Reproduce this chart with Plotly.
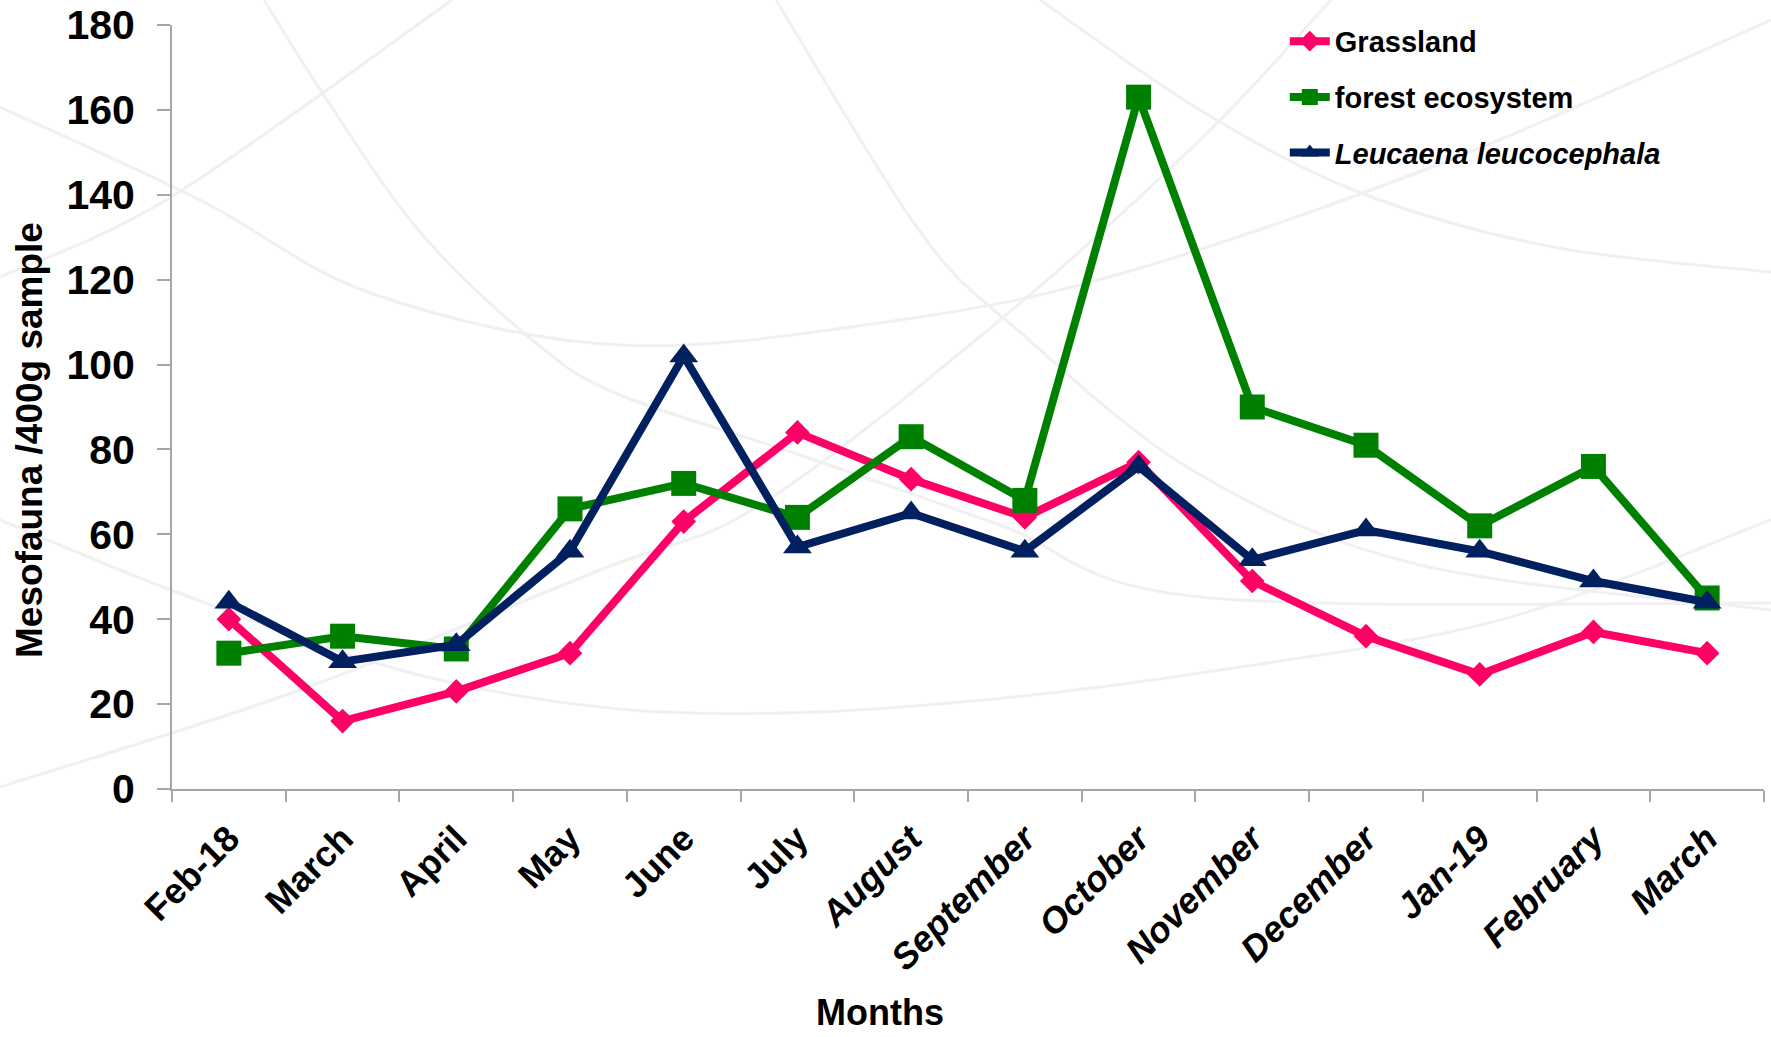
import plotly.graph_objects as go

# Sampling months (Feb 2018 - March 2019)
months = ["Feb-18", "March", "April", "May", "June", "July", "August",
          "September", "October", "November", "December", "Jan-19",
          "February", "March "]
# Months from August onwards are set in italic on the axis
italic_from = 6

grassland = [40, 16, 23, 32, 63, 84, 73, 64, 77, 49, 36, 27, 37, 32]
forest = [32, 36, 33, 66, 72, 64, 83, 68, 163, 90, 81, 62, 76, 45]
leucaena = [44, 30, 34, 56, 102, 57, 65, 56, 76, 54, 61, 56, 49, 44]

y_ticks = list(range(0, 181, 20))

W, H = 1771, 1037
M_L, M_R, M_T, M_B = 172, 7, 25, 248
PW, PH = W - M_L - M_R, H - M_T - M_B

FONT = "Liberation Sans, Arial, sans-serif"


def px_to_paper(x, y):
    return (x - M_L) / PW, (H - M_B - y) / PH


def smooth_path(points):
    """Catmull-Rom curve through pixel points, as an SVG path in paper units."""
    pts = [px_to_paper(x, y) for x, y in points]
    d = "M %.5f,%.5f" % pts[0]
    for i in range(len(pts) - 1):
        p0 = pts[i - 1] if i > 0 else pts[i]
        p1, p2 = pts[i], pts[i + 1]
        p3 = pts[i + 2] if i + 2 < len(pts) else pts[i + 1]
        c1 = (p1[0] + (p2[0] - p0[0]) / 6, p1[1] + (p2[1] - p0[1]) / 6)
        c2 = (p2[0] - (p3[0] - p1[0]) / 6, p2[1] - (p3[1] - p1[1]) / 6)
        d += " C %.5f,%.5f %.5f,%.5f %.5f,%.5f" % (c1 + c2 + p2)
    return d


# Faint decorative swirl lines of the slide background (pixel positions)
background_curves = [
    [(0, 107), (200, 200), (373, 294), (621, 345), (900, 320), (1130, 271), (1450, 160), (1771, 20)],
    [(776, 0), (921, 233), (1021, 333), (1197, 473), (1420, 565), (1771, 610)],
    [(0, 787), (300, 690), (600, 570), (760, 505), (1000, 320), (1200, 140), (1331, 0)],
    [(0, 277), (171, 197), (452, 0)],
    [(0, 520), (171, 590), (400, 670), (600, 707), (784, 713), (983, 700), (1200, 673), (1500, 620), (1771, 520)],
    [(264, 0), (325, 97), (421, 233), (536, 343), (620, 395), (800, 455), (1000, 525), (1200, 597), (1771, 603)],
    [(1040, 0), (1200, 110), (1361, 193), (1553, 247), (1771, 272)],
]

fig = go.Figure()

fig.add_trace(go.Scatter(
    x=months, y=grassland, name="Grassland", mode="lines+markers",
    line=dict(color="#FF0066", width=8),
    marker=dict(symbol="diamond", size=19, color="#FF0066"),
    legendgroup="g1",
))
fig.add_trace(go.Scatter(
    x=months, y=forest, name="forest ecosystem", mode="lines+markers",
    line=dict(color="#008000", width=8),
    marker=dict(symbol="square", size=25, color="#008000"),
    legendgroup="g2",
))
fig.add_trace(go.Scatter(
    x=months, y=leucaena, name="<i>Leucaena leucocephala</i>", mode="lines+markers",
    line=dict(color="#002060", width=8),
    marker=dict(symbol="triangle-up", size=25, color="#002060"),
    legendgroup="g3",
))

shapes = [
    dict(type="path", path=smooth_path(c), xref="paper", yref="paper",
         line=dict(color="#f0f0f0", width=3), layer="below")
    for c in background_curves
]

tick_text = [("<i>%s</i>" % m.strip()) if i >= italic_from else m.strip()
             for i, m in enumerate(months)]

fig.update_layout(
    width=W, height=H,
    margin=dict(l=M_L, r=M_R, t=M_T, b=M_B, autoexpand=False),
    paper_bgcolor="white", plot_bgcolor="rgba(0,0,0,0)",
    font=dict(family=FONT, color="black"),
    shapes=shapes,
    showlegend=True,
    legend=dict(
        x=0.699, y=1.012, xanchor="left", yanchor="top",
        bgcolor="rgba(0,0,0,0)",
        font=dict(size=29, family=FONT, weight="bold", color="black"),
        tracegroupgap=15, itemwidth=40,
    ),
    xaxis=dict(
        type="category", range=[-0.5, len(months) - 0.5],
        tickmode="array", tickvals=months, ticktext=tick_text,
        tickangle=-45, tickson="boundaries",
        ticks="outside", ticklen=11, tickwidth=2, tickcolor="#a6a6a6",
        showline=True, linecolor="#a6a6a6", linewidth=2,
        showgrid=False, zeroline=False,
        tickfont=dict(size=36, family=FONT, weight="bold", color="black"),
        ticklabelstandoff=12,
    ),
    yaxis=dict(
        range=[0, 180], tickvals=y_ticks,
        ticks="outside", ticklen=13, tickwidth=2, tickcolor="#a6a6a6",
        showline=True, linecolor="#a6a6a6", linewidth=2,
        showgrid=False, zeroline=False,
        tickfont=dict(size=41, family=FONT, weight="bold", color="black"),
        ticklabelstandoff=14,
    ),
    annotations=[
        dict(text="Months", xref="paper", yref="paper",
             x=px_to_paper(880, 0)[0], y=px_to_paper(0, 1013)[1],
             xanchor="center", yanchor="middle", showarrow=False,
             font=dict(size=36, family=FONT, weight="bold", color="black")),
        dict(text="Mesofauna /400g sample", xref="paper", yref="paper",
             x=px_to_paper(29, 0)[0], y=px_to_paper(0, 440)[1],
             xanchor="center", yanchor="middle", textangle=-90, showarrow=False,
             font=dict(size=37, family=FONT, weight="bold", color="black")),
    ],
)

fig.write_html("out.html")
